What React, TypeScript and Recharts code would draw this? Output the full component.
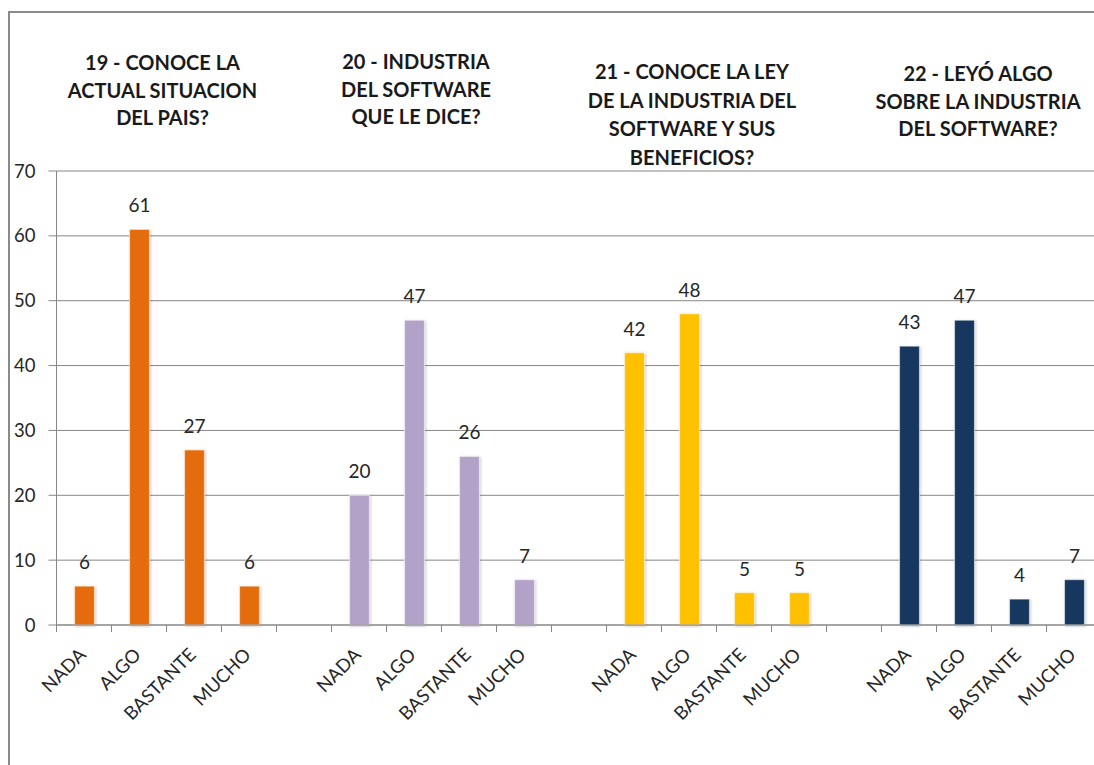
import React from "react";
import { BarChart, Bar, XAxis, YAxis, CartesianGrid, Cell, LabelList } from "recharts";

const responses = ["NADA", "ALGO", "BASTANTE", "MUCHO"];
const q19 = [6, 61, 27, 6];
const q20 = [20, 47, 26, 7];
const q21 = [42, 48, 5, 5];
const q22 = [43, 47, 4, 7];
const groupColors = ["#E46C0A", "#B3A2C7", "#FFC000", "#17375E"];
const titles = [
  ["19 - CONOCE LA", "ACTUAL SITUACION", "DEL PAIS?"],
  ["20 - INDUSTRIA", "DEL SOFTWARE", "QUE LE DICE?"],
  ["21 - CONOCE LA LEY", "DE LA INDUSTRIA DEL", "SOFTWARE Y SUS", "BENEFICIOS?"],
  ["22 - LEYÓ ALGO", "SOBRE LA INDUSTRIA", "DEL SOFTWARE?"],
];
const yTicks = [0, 10, 20, 30, 40, 50, 60, 70];

const groups = [q19, q20, q21, q22];
const data: { name: string; value: number | null; group: number }[] = [];
groups.forEach((g, gi) => {
  g.forEach((v, i) => data.push({ name: responses[i], value: v, group: gi }));
  if (gi < groups.length - 1) data.push({ name: "", value: null, group: gi });
});

// layout
const CHART_W = 1110;
const CHART_H = 765;
const M_LEFT = 0;
const Y_W = 56.5;
const M_RIGHT = 8.5;
const X_H = 140;
const PLOT_W = CHART_W - M_LEFT - Y_W - M_RIGHT;
const BAND = PLOT_W / data.length;
const FONT = "Lato, 'Open Sans', 'DejaVu Sans', sans-serif";
const GRAY = "#868686";
const titlePos = [
  { x: 162.5, y: 49 },
  { x: 416, y: 48 },
  { x: 692, y: 57 },
  { x: 978, y: 60 },
];

const XTick = (props: any) => {
  const { x, y, payload } = props;
  const bx = x - BAND / 2;
  const tx = x + 3;
  const ty = y + 31;
  return (
    <g>
      <line x1={bx} x2={bx} y1={y} y2={y + 7} stroke={GRAY} strokeWidth={1} />
      {payload.value ? (
        <text
          x={tx}
          y={ty}
          textAnchor="end"
          transform={`rotate(-45, ${tx}, ${ty})`}
          fontSize={18.5}
          fontFamily={FONT}
          fill="#262626"
        >
          {payload.value}
        </text>
      ) : null}
    </g>
  );
};

const BarShape = (props: any) => {
  const { x, y, width, height, fill } = props;
  if (!height || height <= 0) return null;
  return (
    <rect
      x={x}
      y={y}
      width={width}
      height={height}
      fill={fill}
      stroke="#ffffff"
      strokeOpacity={0.55}
      strokeWidth={1.2}
      filter="url(#barShadow)"
    />
  );
};

export default function App() {
  return (
    <div
      style={{
        position: "fixed",
        left: 0,
        top: 0,
        width: 1094,
        height: 765,
        overflow: "hidden",
        background: "#fff",
      }}
    >
      <div
        style={{
          position: "absolute",
          left: 8,
          top: 11,
          width: 1200,
          height: 900,
          border: "2px solid #8a8a8a",
          boxSizing: "border-box",
        }}
      />
      <div style={{ position: "absolute", left: 0, top: 0 }}>
        <BarChart
          width={CHART_W}
          height={CHART_H}
          data={data}
          margin={{ top: 171, right: M_RIGHT, bottom: 0, left: M_LEFT }}
          barSize={20}
        >
          <defs>
            <filter id="barShadow" x="-30%" y="-10%" width="160%" height="120%">
              <feDropShadow dx="0.8" dy="0.8" stdDeviation="1" floodColor="#000" floodOpacity="0.3" />
            </filter>
          </defs>
          <CartesianGrid vertical={false} stroke={GRAY} strokeWidth={1} />
          <XAxis
            dataKey="name"
            interval={0}
            height={X_H}
            tickSize={0}
            tickMargin={0}
            tickLine={false}
            axisLine={{ stroke: GRAY, strokeWidth: 1 }}
            tick={<XTick />}
          />
          <YAxis
            width={Y_W}
            domain={[0, 70]}
            ticks={yTicks}
            interval={0}
            tickSize={8}
            tickMargin={13}
            axisLine={{ stroke: GRAY, strokeWidth: 1 }}
            tickLine={{ stroke: GRAY, strokeWidth: 1 }}
            tick={{ fontSize: 18.5, fontFamily: FONT, fill: "#262626" }}
          />
          <Bar dataKey="value" isAnimationActive={false} shape={<BarShape />}>
            {data.map((d, i) => (
              <Cell key={i} fill={groupColors[d.group]} />
            ))}
            <LabelList
              dataKey="value"
              position="top"
              offset={17}
              style={{ fontSize: 19, fontFamily: FONT, fill: "#262626" }}
            />
          </Bar>
        </BarChart>
      </div>
      {titles.map((lines, gi) => (
        <div
          key={gi}
          style={{
            position: "absolute",
            left: titlePos[gi].x,
            top: titlePos[gi].y,
            transform: "translateX(-50%)",
            textAlign: "center",
            whiteSpace: "nowrap",
            fontFamily: FONT,
            fontWeight: 700,
            fontSize: 20,
            lineHeight: gi === 2 ? "28.5px" : "27.5px",
            color: "#1a1a1a",
          }}
        >
          {lines.map((l, li) => (
            <div key={li}>{l}</div>
          ))}
        </div>
      ))}
    </div>
  );
}
